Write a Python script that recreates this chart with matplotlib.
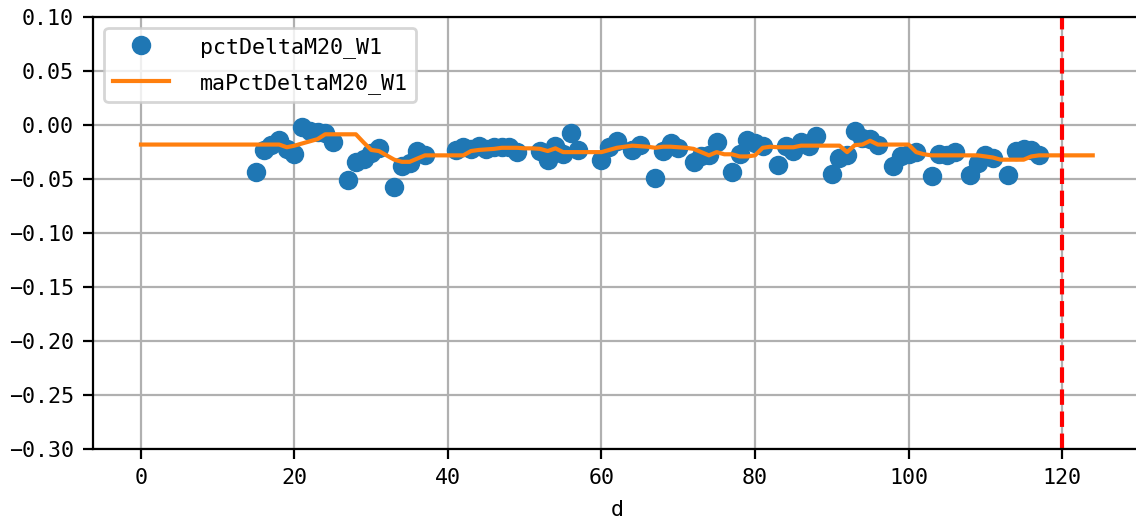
import matplotlib
matplotlib.use('Agg')
import matplotlib.pyplot as plt
from matplotlib.ticker import MultipleLocator
import numpy as np

nan = np.nan

# day index
d = np.arange(0, 125)

# pctDeltaM20_W1 values for d = 15..117 (nan = no point)
pct_start = 15
pct_vals = [
    -0.043, -0.023, -0.018, -0.014, -0.022, -0.027, -0.002, -0.005, -0.006, -0.007,  # 15-24
    -0.016, nan, -0.051, -0.034, -0.031, -0.026, -0.021, nan, -0.057, -0.038,      # 25-34
    -0.035, -0.024, -0.028, nan, nan, nan, -0.023, -0.020, -0.022, -0.019,          # 35-44
    -0.022, -0.020, -0.020, -0.020, -0.025, nan, nan, -0.024, -0.032, -0.019,       # 45-54
    -0.027, -0.007, -0.023, nan, nan, -0.032, -0.020, -0.015, nan, -0.023,          # 55-64
    -0.018, nan, -0.049, -0.024, -0.017, -0.021, nan, -0.034, -0.029, -0.028,       # 65-74
    -0.016, nan, -0.043, -0.027, -0.014, -0.017, -0.019, nan, -0.037, -0.019,       # 75-84
    -0.024, -0.016, -0.019, -0.010, nan, -0.045, -0.030, -0.028, -0.005, -0.012,    # 85-94
    -0.013, -0.018, nan, -0.038, -0.029, -0.027, -0.025, nan, -0.047, -0.027,       # 95-104
    -0.028, -0.025, nan, -0.046, -0.035, -0.028, -0.030, nan, -0.046, -0.024,       # 105-114
    -0.022, -0.023, -0.028,                                                         # 115-117
]

# maPctDeltaM20_W1 values for d = 0..124
ma_vals = [-0.018] * 19 + [
    -0.0205, -0.019, -0.017, -0.015, -0.013, -0.0085, -0.0085, -0.0085, -0.0085, -0.0085,  # 19-28
    -0.016, -0.023, -0.024, -0.028, -0.032, -0.034, -0.034, -0.031, -0.028, -0.028,        # 29-38
    -0.028, -0.028, -0.028, -0.028, -0.024, -0.023, -0.0225, -0.022, -0.021, -0.021,       # 39-48
    -0.021, -0.0215, -0.0215, -0.022, -0.024, -0.0215, -0.025, -0.025, -0.025, -0.025,     # 49-58
    -0.025, -0.025, -0.023, -0.021, -0.020, -0.019, -0.0195, -0.020, -0.021, -0.020,       # 59-68
    -0.020, -0.0205, -0.021, -0.022, -0.025, -0.028, -0.025, -0.027, -0.027, -0.029,       # 69-78
    -0.029, -0.028, -0.021, -0.020, -0.0205, -0.0205, -0.0205, -0.019, -0.019, -0.019,     # 79-88
    -0.019, -0.019, -0.019, -0.025, -0.0185, -0.018, -0.0145, -0.018, -0.018, -0.018,      # 89-98
    -0.018, -0.018, -0.025, -0.027, -0.028, -0.028, -0.028, -0.028, -0.028, -0.028,        # 99-108
    -0.028, -0.029, -0.030, -0.032, -0.032, -0.032, -0.032, -0.029,                        # 109-116
] + [-0.028] * 8

pct = np.full(len(d), nan)
pct[pct_start:pct_start + len(pct_vals)] = pct_vals
ma = np.array(ma_vals)

cutoff = 120

plt.rcParams['font.family'] = ['DejaVu Sans Mono']
plt.rcParams['font.size'] = 7.8

fig = plt.figure(figsize=(5.68, 2.6), dpi=200)
ax = fig.add_axes([0.0822, 0.1365, 0.9216, 0.8305])

ax.plot(d, pct, 'o', color='#1f77b4', label='pctDeltaM20_W1')
ax.plot(d, ma, '-', color='#ff7f0e', label='maPctDeltaM20_W1')
ax.axvline(cutoff, color='r', linestyle='--')

ax.set_ylim(-0.30, 0.10)
ax.yaxis.set_major_locator(MultipleLocator(0.05))
ax.xaxis.set_major_locator(MultipleLocator(20))
ax.set_xlabel('d')
ax.grid(True)
ax.legend(loc='upper left', handlelength=2.6, handletextpad=1.4, labelspacing=0.7)

fig.savefig('out.png', dpi=200)
